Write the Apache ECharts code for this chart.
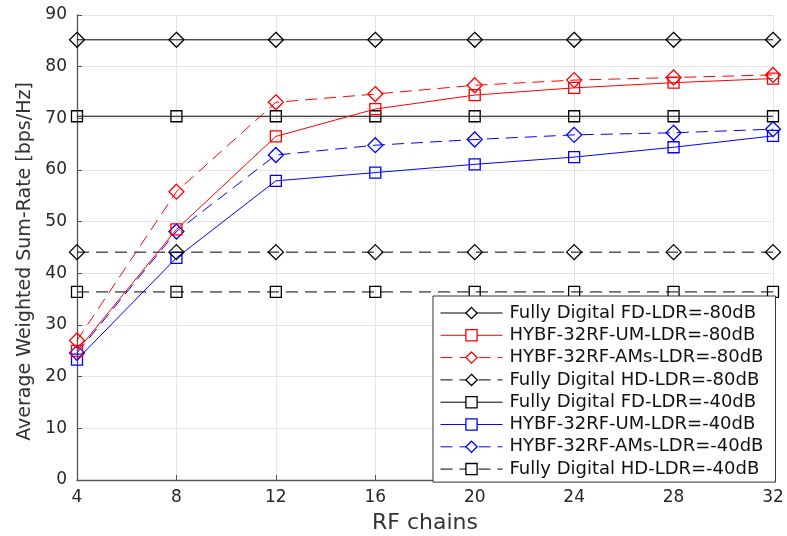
<!DOCTYPE html>
<html>
<head>
<meta charset="utf-8">
<script src="https://cdn.jsdelivr.net/npm/echarts@6/dist/echarts.min.js"></script>
<style>html,body{margin:0;padding:0;background:#fff;}#c{width:787px;height:536px;}</style>
</head>
<body>
<div id="c"></div>
<script>
const rfChains = [4, 8, 12, 16, 20, 24, 28, 32];
const fdLdr80 = [85.2, 85.2, 85.2, 85.2, 85.2, 85.2, 85.2, 85.2];
const umLdr80 = [25.0, 48.5, 66.5, 71.8, 74.5, 75.9, 76.9, 77.7];
const amsLdr80 = [27.0, 55.8, 73.1, 74.7, 76.4, 77.4, 77.9, 78.4];
const hdLdr80 = [44.1, 44.1, 44.1, 44.1, 44.1, 44.1, 44.1, 44.1];
const fdLdr40 = [70.4, 70.4, 70.4, 70.4, 70.4, 70.4, 70.4, 70.4];
const umLdr40 = [23.3, 43.0, 57.9, 59.5, 61.1, 62.5, 64.4, 66.6];
const amsLdr40 = [24.6, 48.1, 62.9, 64.8, 65.9, 66.8, 67.2, 67.9];
const hdLdr40 = [36.4, 36.4, 36.4, 36.4, 36.4, 36.4, 36.4, 36.4];
const yTicks = [0, 10, 20, 30, 40, 50, 60, 70, 80, 90];

const names = [
  'Fully Digital FD-LDR=-80dB',
  'HYBF-32RF-UM-LDR=-80dB',
  'HYBF-32RF-AMs-LDR=-80dB',
  'Fully Digital HD-LDR=-80dB',
  'Fully Digital FD-LDR=-40dB',
  'HYBF-32RF-UM-LDR=-40dB',
  'HYBF-32RF-AMs-LDR=-40dB',
  'Fully Digital HD-LDR=-40dB'
];
const datasets = [fdLdr80, umLdr80, amsLdr80, hdLdr80, fdLdr40, umLdr40, amsLdr40, hdLdr40];
const colors = ['#000', '#ff0000', '#ff0000', '#000', '#000', '#0000ff', '#0000ff', '#000'];
const symbols = ['diamond', 'rect', 'diamond', 'diamond', 'rect', 'rect', 'diamond', 'rect'];
const dashed = [false, false, true, true, false, false, true, true];

const FONT = 'DejaVu Sans, Liberation Sans, Arial, sans-serif';

const series = names.map((n, i) => ({
  name: n,
  type: 'line',
  data: rfChains.map((x, j) => [x, datasets[i][j]]),
  symbol: symbols[i],
  symbolSize: symbols[i] === 'diamond' ? [15, 15] : [11, 11],
  showAllSymbol: true,
  lineStyle: { color: colors[i], width: 1, type: dashed[i] ? [12, 7] : 'solid' },
  itemStyle: { color: 'rgba(255,255,255,0)', borderColor: colors[i], borderWidth: 1.3 },
  emphasis: { disabled: true },
  z: 10 - i
}));

const chart = echarts.init(document.getElementById('c'), null, { renderer: 'canvas' });
chart.setOption({
  animation: false,
  backgroundColor: '#fff',
  textStyle: { fontFamily: FONT },
  grid: { left: 77, right: 14, top: 15, bottom: 56, containLabel: false, outerBoundsMode: 'none' },
  xAxis: {
    type: 'value', min: 4, max: 32, interval: 4,
    name: 'RF chains', nameLocation: 'middle', nameGap: 32,
    nameTextStyle: { fontSize: 22, color: '#333', fontFamily: FONT },
    axisLine: { lineStyle: { color: '#555', width: 1.3 } },
    axisTick: { inside: true, length: 5, lineStyle: { color: '#555' } },
    axisLabel: { fontSize: 17, color: '#262626', margin: 9, fontFamily: FONT },
    splitLine: { show: true, lineStyle: { color: '#e3e3e3', width: 1 } }
  },
  yAxis: {
    type: 'value', min: 0, max: 90, interval: 10,
    name: 'Average Weighted Sum-Rate [bps/Hz]', nameLocation: 'middle', nameGap: 42,
    nameTextStyle: { fontSize: 19, color: '#333', fontFamily: FONT, padding: [0, 28, 0, 0] },
    axisLine: { show: true, lineStyle: { color: '#555', width: 1.3 } },
    axisTick: { show: true, inside: true, length: 5, lineStyle: { color: '#555' } },
    axisLabel: { fontSize: 17, color: '#262626', margin: 10, fontFamily: FONT },
    splitLine: { show: true, lineStyle: { color: '#e3e3e3', width: 1 } }
  },
  legend: {
    orient: 'vertical',
    left: 433, top: 296,
    padding: [8, 12, 4, 7],
    backgroundColor: '#fff',
    borderColor: '#333', borderWidth: 1,
    itemWidth: 62, itemHeight: 14, itemGap: 4.3,
    lineStyle: { width: 1 },
    itemStyle: { color: '#fff', borderWidth: 1.3 },
    textStyle: { fontSize: 18, color: '#111', fontFamily: FONT, padding: [0, 0, 0, 2] },
    data: names
  },
  series: series
});
</script>
</body>
</html>
